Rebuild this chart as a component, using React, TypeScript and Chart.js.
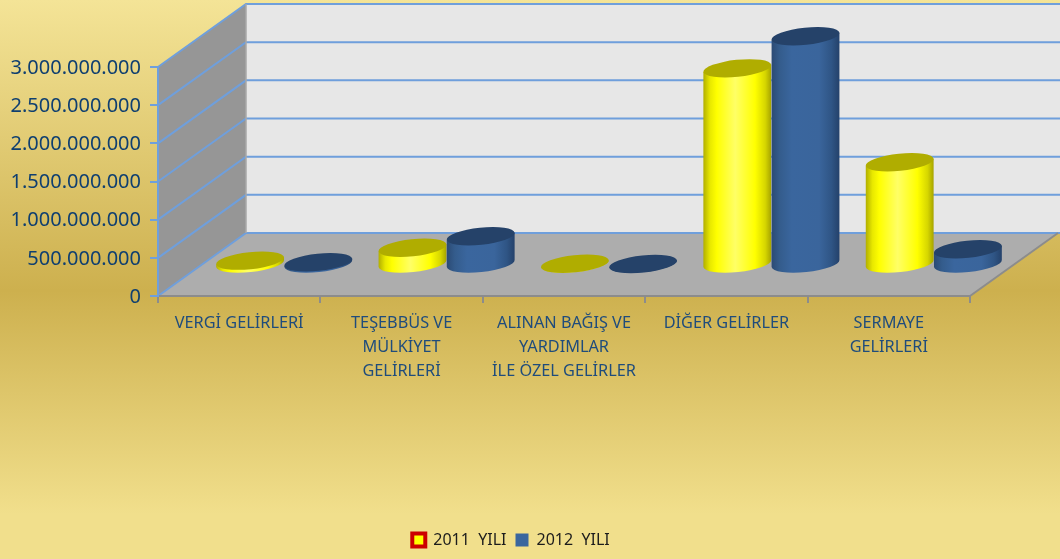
import React, { useEffect, useRef } from "react";
import { Chart, registerables } from "chart.js";

Chart.register(...registerables);

const categories = [
  "VERGİ GELİRLERİ",
  ["TEŞEBBÜS VE", "MÜLKİYET", "GELİRLERİ"],
  ["ALINAN BAĞIŞ VE", "YARDIMLAR", "İLE ÖZEL GELİRLER"],
  "DİĞER GELİRLER",
  ["SERMAYE", "GELİRLERİ"],
];
const series2011 = [50000000, 220000000, 10000000, 2570000000, 1340000000];
const series2012 = [30000000, 370000000, 6000000, 2990000000, 200000000];
const yMax = 3000000000;
const yStep = 500000000;

const DEPTH_X = 88;
const DEPTH_Y = -63;

const wallsPlugin = {
  id: "walls",
  beforeDraw(chart: any) {
    const { ctx, width, height, scales } = chart;
    const bg = ctx.createLinearGradient(0, 0, 0, height);
    bg.addColorStop(0, "#f4e497");
    bg.addColorStop(0.52, "#cdb04e");
    bg.addColorStop(0.92, "#f1df8c");
    bg.addColorStop(1, "#f1df8c");
    ctx.save();
    ctx.fillStyle = bg;
    ctx.fillRect(0, 0, width, height);

    const y = scales.y;
    const x = scales.x;
    const l = x.left;
    const r = x.right;
    const y0 = y.getPixelForValue(0);
    const yT = y.getPixelForValue(yMax);
    const poly = (pts: number[][], fill: string) => {
      ctx.beginPath();
      pts.forEach((p, i) => (i ? ctx.lineTo(p[0], p[1]) : ctx.moveTo(p[0], p[1])));
      ctx.closePath();
      ctx.fillStyle = fill;
      ctx.fill();
    };
    poly([[l, y0], [l, yT], [l + DEPTH_X, yT + DEPTH_Y], [l + DEPTH_X, y0 + DEPTH_Y]], "#969696");
    poly([[l + DEPTH_X, yT + DEPTH_Y], [width, yT + DEPTH_Y], [width, y0 + DEPTH_Y], [l + DEPTH_X, y0 + DEPTH_Y]], "#e7e7e7");
    poly([[l, y0], [r, y0], [r + DEPTH_X, y0 + DEPTH_Y], [l + DEPTH_X, y0 + DEPTH_Y]], "#adadad");

    // back-wall edge and grid
    ctx.lineCap = "butt";
    for (let v = 0; v <= yMax; v += yStep) {
      const py = y.getPixelForValue(v);
      ctx.beginPath();
      ctx.moveTo(l, py);
      ctx.lineTo(l + DEPTH_X, py + DEPTH_Y);
      ctx.lineTo(width, py + DEPTH_Y);
      ctx.strokeStyle = "#6f9fdc";
      ctx.lineWidth = 2;
      ctx.stroke();
    }
    ctx.beginPath();
    ctx.moveTo(l + DEPTH_X, yT + DEPTH_Y);
    ctx.lineTo(l + DEPTH_X, y0 + DEPTH_Y);
    ctx.strokeStyle = "#a9a9a9";
    ctx.lineWidth = 1.5;
    ctx.stroke();
    ctx.beginPath();
    ctx.moveTo(r, y0);
    ctx.lineTo(r + DEPTH_X, y0 + DEPTH_Y);
    ctx.strokeStyle = "#8c8c8c";
    ctx.lineWidth = 2;
    ctx.stroke();
    ctx.restore();
  },
  afterLayout(chart: any) {
    const lg = chart.legend;
    if (lg) {
      lg.left += 26;
      lg.right += 26;
      lg.top += 2;
      lg.bottom += 2;
    }
  },
};

const cylinderLook = [
  {
    stops: [[0, "#b0ad00"], [0.1, "#e8e800"], [0.2, "#ffff00"], [0.47, "#ffff66"], [0.76, "#ffff00"], [0.91, "#d6d600"], [1, "#a5a200"]],
    top: "#b0ad00",
  },
  {
    stops: [[0, "#2b4a74"], [0.12, "#345c8c"], [0.3, "#3a669e"], [0.7, "#3a659c"], [0.88, "#2f5585"], [1, "#24416a"]],
    top: "#254269",
  },
];

const cylindersPlugin = {
  id: "cylinders",
  beforeDatasetsDraw(chart: any) {
    const { ctx } = chart;
    const dx = 45;
    const dy = DEPTH_Y / 2;
    const rot = -6 * (Math.PI / 180);
    const cosR = Math.cos(rot);
    const sinR = Math.sin(rot);
    const metas = chart.data.datasets.map((_: any, i: number) => chart.getDatasetMeta(i));
    for (let c = 0; c < categories.length; c++) {
      metas.forEach((meta: any, d: number) => {
        const el = meta.data[c];
        const look = cylinderLook[d];
        const cx = el.x + dx;
        const rx = el.width / 2;
        const ry = 8.5;
        const yTop = el.y + dy;
        const yBase = el.base + dy;
        const g = ctx.createLinearGradient(cx - rx, 0, cx + rx, 0);
        look.stops.forEach((s: any) => g.addColorStop(s[0], s[1]));
        ctx.save();
        ctx.beginPath();
        ctx.moveTo(cx - rx * cosR, yTop - rx * sinR);
        ctx.lineTo(cx - rx * cosR, yBase - rx * sinR);
        ctx.ellipse(cx, yBase, rx, ry, rot, Math.PI, 0, true);
        ctx.lineTo(cx + rx * cosR, yTop + rx * sinR);
        ctx.closePath();
        ctx.fillStyle = g;
        ctx.fill();
        ctx.beginPath();
        ctx.ellipse(cx, yTop, rx, ry, rot, 0, Math.PI * 2);
        ctx.fillStyle = look.top;
        ctx.fill();
        ctx.restore();
      });
    }
    return false;
  },
};

export default function App() {
  const ref = useRef<HTMLCanvasElement>(null);
  useEffect(() => {
    const chart = new Chart(ref.current as any, {
      type: "bar",
      data: {
        labels: categories as any,
        datasets: [
          { label: "2011  YILI", data: series2011, backgroundColor: "#ffff00", borderColor: "#cc0000", borderWidth: 4 },
          { label: "2012  YILI", data: series2012, backgroundColor: "#3a669e", borderColor: "#3a669e", borderWidth: 0 },
        ],
      },
      plugins: [wallsPlugin, cylindersPlugin],
      options: {
        responsive: false,
        animation: false,
        devicePixelRatio: 1,
        layout: { padding: { top: 67, right: 90, left: 0, bottom: 3 } },
        datasets: { bar: { categoryPercentage: 0.84, barPercentage: 1 } },
        plugins: {
          title: { display: false },
          tooltip: { enabled: false },
          legend: {
            display: true,
            position: "bottom",
            labels: {
              boxWidth: 13,
              boxHeight: 13,
              padding: 9,
              color: "#1c1c1c",
              font: { family: "'Noto Sans'", size: 16 },
            },
          },
        },
        scales: {
          x: {
            afterFit(s: any) {
              s.height = 225;
            },
            border: { color: "#8c8c8c", width: 2 },
            grid: { drawOnChartArea: false, drawTicks: true, color: "#8c8c8c", tickLength: 7, lineWidth: 2 },
            ticks: {
              autoSkip: false,
              maxRotation: 0,
              minRotation: 0,
              padding: 8,
              color: "#1f4c7c",
              font: { family: "'Noto Sans'", size: 16.3, lineHeight: 1.47 },
            },
          },
          y: {
            min: 0,
            max: yMax,
            afterFit(s: any) {
              s.width = 158;
            },
            border: { color: "#6f9fdc", width: 2 },
            grid: { drawOnChartArea: false, drawTicks: true, color: "#6f9fdc", tickLength: 8, lineWidth: 2 },
            ticks: {
              stepSize: yStep,
              padding: 9,
              labelOffset: 1,
              color: "#0f3f70",
              font: { family: "'Noto Sans'", size: 20 },
              callback: (v: any) => String(v).replace(/\B(?=(\d{3})+(?!\d))/g, "."),
            },
          },
        },
      },
    } as any);
    return () => chart.destroy();
  }, []);
  return (
    <div style={{ position: "absolute", left: 0, top: 0, width: 1060, height: 559 }}>
      <canvas ref={ref} width={1060} height={559} style={{ display: "block" }} />
    </div>
  );
}
